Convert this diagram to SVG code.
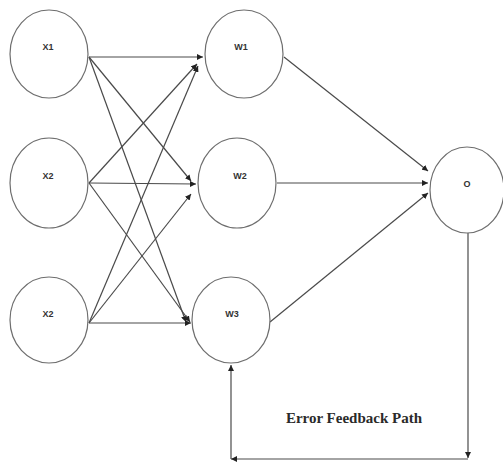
<svg xmlns="http://www.w3.org/2000/svg" width="503" height="463" viewBox="0 0 503 463">
  <style>
    .node ellipse { fill: #ffffff; stroke: #6e6e6e; stroke-width: 1.2; }
    .node text { font-family: "Liberation Sans", Arial, sans-serif; font-size: 9px; font-weight: bold; fill: #333333; text-anchor: middle; }
    .edge { stroke: #4a4a4a; stroke-width: 1.2; fill: none; marker-end: url(#arrow); }
    .caption { font-family: "Liberation Serif", "Times New Roman", serif; font-size: 15px; font-weight: bold; fill: #2a2a2a; text-anchor: middle; }
  </style>
  <defs>
    <marker id="arrow" viewBox="0 0 10 10" refX="10" refY="5" markerWidth="6" markerHeight="6" markerUnits="userSpaceOnUse" orient="auto">
      <path d="M0,0 L10,5 L0,10 z" fill="#222222"/>
    </marker>
  </defs>
  <rect width="503" height="463" fill="#ffffff"/>

  <!-- connectors -->
  <g id="connectors">
    <!-- inputs to hidden weights -->
    <line class="edge" x1="89" y1="57" x2="203" y2="57"/>
    <line class="edge" x1="89" y1="57" x2="191" y2="181"/>
    <line class="edge" x1="89" y1="57" x2="186" y2="322"/>
    <line class="edge" x1="89" y1="183" x2="197" y2="64"/>
    <line class="edge" x1="89" y1="183" x2="196" y2="184"/>
    <line class="edge" x1="89" y1="183" x2="190" y2="322"/>
    <line class="edge" x1="89" y1="323" x2="198" y2="66"/>
    <line class="edge" x1="89" y1="323" x2="191" y2="194"/>
    <line class="edge" x1="89" y1="323" x2="191" y2="323"/>
    <!-- weights to output -->
    <line class="edge" x1="284" y1="57" x2="428" y2="171"/>
    <line class="edge" x1="277" y1="183" x2="428" y2="183"/>
    <line class="edge" x1="270" y1="322" x2="428" y2="193"/>
    <!-- error feedback path -->
    <line class="edge" x1="468" y1="233" x2="468" y2="458"/>
    <line class="edge" x1="468" y1="459" x2="231" y2="459"/>
    <line class="edge" x1="231" y1="459" x2="231" y2="365"/>
  </g>

  <g id="X1" class="node">
    <ellipse cx="49" cy="54" rx="39" ry="44"/>
    <text x="48" y="50">X1</text>
  </g>
  <g id="X2" class="node">
    <ellipse cx="49" cy="183" rx="39" ry="45"/>
    <text x="48" y="179">X2</text>
  </g>
  <g id="X3" class="node">
    <ellipse cx="49" cy="320" rx="39" ry="43"/>
    <text x="48" y="317">X2</text>
  </g>
  <g id="W1" class="node">
    <ellipse cx="244" cy="54" rx="39" ry="44"/>
    <text x="241" y="50">W1</text>
  </g>
  <g id="W2" class="node">
    <ellipse cx="237" cy="183" rx="39" ry="45"/>
    <text x="240" y="179">W2</text>
  </g>
  <g id="W3" class="node">
    <ellipse cx="231" cy="320" rx="39" ry="43"/>
    <text x="232" y="317">W3</text>
  </g>
  <g id="O" class="node">
    <ellipse cx="467" cy="190" rx="37" ry="43"/>
    <text x="467" y="187">O</text>
  </g>

  <text class="caption" x="354" y="423">Error Feedback Path</text>
</svg>
